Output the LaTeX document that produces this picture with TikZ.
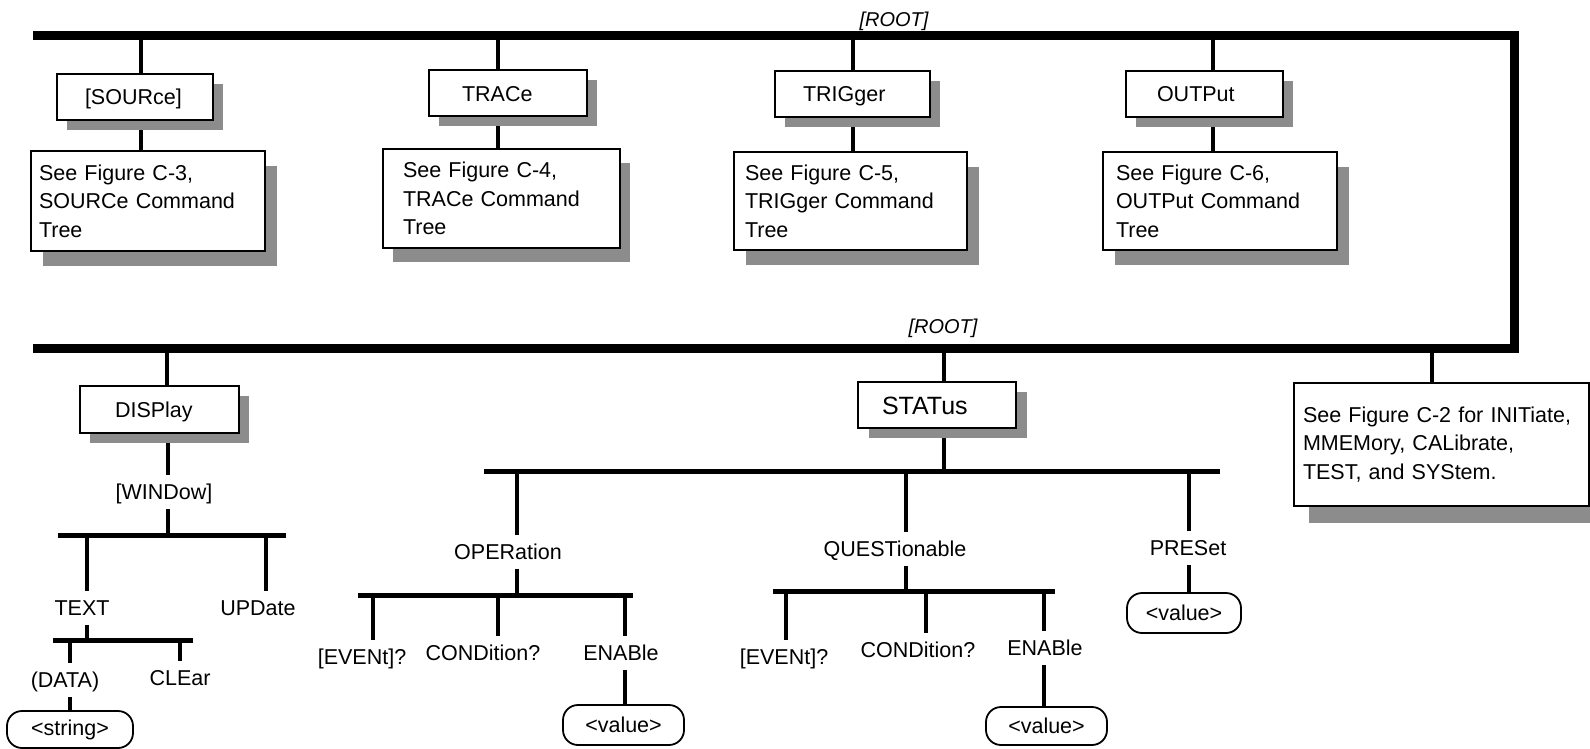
\documentclass[tikz,border=0pt]{standalone}
\usepackage{fontspec}
\setmainfont{Liberation Sans}
\usetikzlibrary{shadows}
\pgfdeclarelayer{bg}
\pgfsetlayers{bg,main}
\newcommand\lblfont{\fontsize{21.5pt}{28.5pt}\selectfont}
\newcommand\statfont{\fontsize{25pt}{30pt}\selectfont}
\newcommand\rootfont{\fontsize{20pt}{24pt}\selectfont\itshape}
\begin{document}
\begin{tikzpicture}[x=1pt,y=-1pt,
  bus/.style={line width=9pt, line join=miter},
  stem/.style={line width=4.5pt},
  tstem/.style={line width=4pt},
  tbar/.style={line width=5pt},
  shad/.style 2 args={drop shadow={shadow xshift=#1pt, shadow yshift=-#2pt, fill=black!45, opacity=1}},
  cmdbox/.style={draw, fill=white, line width=2pt, minimum height=46pt, align=left, font=\lblfont, inner ysep=0pt, text height=15.5pt, text depth=0pt},
  descbox/.style={draw, fill=white, line width=2pt, align=left, font=\lblfont, inner ysep=0pt},
  lbl/.style={font=\lblfont, inner sep=0pt, outer xsep=0pt, outer ysep=9pt, text height=15.5pt, text depth=0pt},
  valbox/.style={draw, line width=1.8pt, rounded corners=15pt, font=\lblfont, inner sep=0pt},
  rootlbl/.style={font=\rootfont, inner sep=0pt}
]
\useasboundingbox (0,0) rectangle (1590,749);

% ---------- top level ----------
\node[rootlbl] (root1) at (894,21) {[ROOT]};
\node[rootlbl] (root2) at (943,328) {[ROOT]};

\node[cmdbox, shad={10}{10}, inner xsep=28pt, text width=100pt] (src) at (135,97) {[SOURce]};
\node[cmdbox, shad={10}{10}, inner xsep=33pt, text width=92pt] (trc) at (508,93.5) {TRACe};
\node[cmdbox, shad={10}{10}, inner xsep=28pt, text width=99pt] (trg) at (852.5,94) {TRIGger};
\node[cmdbox, shad={10}{10}, inner xsep=31pt, text width=95pt] (out) at (1204.5,94) {OUTPut};

\node[descbox, shad={12}{15}, inner xsep=8pt, text width=218pt, minimum height=100pt] (d3) at (148,201) {See Figure C-3,\\SOURCe Command\\Tree};
\node[descbox, shad={10}{14}, inner xsep=20pt, text width=197pt, minimum height=99pt] (d4) at (501.5,198.5) {See Figure C-4,\\TRACe Command\\Tree};
\node[descbox, shad={12}{15}, inner xsep=11pt, text width=211pt, minimum height=98pt] (d5) at (850.5,201) {See Figure C-5,\\TRIGger Command\\Tree};
\node[descbox, shad={12}{15}, inner xsep=13pt, text width=208pt, minimum height=98pt] (d6) at (1220,201) {See Figure C-6,\\OUTPut Command\\Tree};

% ---------- second level ----------
\node[cmdbox, shad={10}{10}, inner xsep=35pt, text width=89pt, minimum height=47pt] (disp) at (159.5,409.5) {DISPlay};
\node[cmdbox, shad={11}{10}, inner xsep=24pt, text width=110pt, font=\statfont, text height=18pt] (stat) at (937,405) {STATus};
\node[descbox, shad={15}{17}, inner xsep=9pt, text width=277pt, minimum height=123pt] (c2) at (1441.5,444.5) {See Figure C-2 for INITiate,\\MMEMory, CALibrate,\\TEST, and SYStem.};

% DISPlay subtree
\node[lbl] (win) at (164,492) {[WINDow]};
\node[lbl] (txt) at (82,608) {TEXT};
\node[lbl] (upd) at (258,608) {UPDate};
\node[lbl] (dat) at (65,680) {(DATA)};
\node[lbl] (clr) at (180,678) {CLEar};
\node[valbox, minimum width=126pt, minimum height=37pt] (str) at (70,729.5) {<string>};

% STATus subtree
\node[lbl] (oper) at (508,552) {OPERation};
\node[lbl] (ev1) at (362,657) {[EVENt]?};
\node[lbl] (cn1) at (483,653) {CONDition?};
\node[lbl] (en1) at (621,653) {ENABle};
\node[valbox, minimum width=121pt, minimum height=40pt] (v1) at (623.5,725) {<value>};
\node[lbl] (ques) at (895,549) {QUESTionable};
\node[lbl] (ev2) at (784,657) {[EVENt]?};
\node[lbl] (cn2) at (918,650) {CONDition?};
\node[lbl] (en2) at (1045,648) {ENABle};
\node[valbox, minimum width=121pt, minimum height=38pt] (v2) at (1046.5,726) {<value>};
\node[lbl] (pre) at (1188,548) {PRESet};
\node[valbox, minimum width=114pt, minimum height=40pt] (v3) at (1184,613) {<value>};

% ---------- coordinates ----------
\coordinate (busTL) at (33,36);
\coordinate (busTR) at (1514,36);
\coordinate (busBR) at (1514,348);
\coordinate (busBL) at (33,348);
\coordinate (s1) at (141,36);
\coordinate (s2) at (498,36);
\coordinate (s3) at (853,36);
\coordinate (s4) at (1213,36);
\coordinate (b1) at (167,348);
\coordinate (b2) at (944,348);
\coordinate (b3) at (1432,348);
\coordinate (wbL) at (58,535);
\coordinate (wbR) at (286,535);
\coordinate (wb0) at (168,535);
\coordinate (wb1) at (87,535);
\coordinate (wb2) at (266,535);
\coordinate (tbL) at (53,640);
\coordinate (tbR) at (193,640);
\coordinate (tb0) at (87,640);
\coordinate (tb1) at (70,640);
\coordinate (tb2) at (180,640);
\coordinate (sbL) at (484,471);
\coordinate (sbR) at (1220,471);
\coordinate (sb0) at (944,471);
\coordinate (sb1) at (517,471);
\coordinate (sb2) at (906,471);
\coordinate (sb3) at (1189,471);
\coordinate (obL) at (358,595);
\coordinate (obR) at (633,595);
\coordinate (ob0) at (517,595);
\coordinate (ob1) at (373,595);
\coordinate (ob2) at (498,595);
\coordinate (ob3) at (625,595);
\coordinate (qbL) at (773,591);
\coordinate (qbR) at (1055,591);
\coordinate (qb0) at (906,591);
\coordinate (qb1) at (786,591);
\coordinate (qb2) at (926,591);
\coordinate (qb3) at (1044,591);

\begin{pgfonlayer}{bg}
\draw[bus] (busTL) -- (busTR) -- (busBR) -- (busBL);
% top stems
\draw[stem] (s1) -- (s1 |- src.north);
\draw[stem] (s1 |- src.south) -- (s1 |- d3.north);
\draw[stem] (s2) -- (s2 |- trc.north);
\draw[stem] (s2 |- trc.south) -- (s2 |- d4.north);
\draw[stem] (s3) -- (s3 |- trg.north);
\draw[stem] (s3 |- trg.south) -- (s3 |- d5.north);
\draw[stem] (s4) -- (s4 |- out.north);
\draw[stem] (s4 |- out.south) -- (s4 |- d6.north);
% bottom bus stems
\draw[stem] (b1) -- (b1 |- disp.north);
\draw[stem] (b2) -- (b2 |- stat.north);
\draw[stem] (b3) -- (b3 |- c2.north);
% DISPlay subtree
\draw[tstem] (wb0 |- disp.south) -- (wb0 |- win.north);
\draw[tstem] (wb0 |- win.south) -- (wb0);
\draw[tbar] (wbL) -- (wbR);
\draw[tstem] (wb1) -- (wb1 |- txt.north);
\draw[tstem] (wb2) -- (wb2 |- upd.north);
\draw[tstem] (tb0 |- txt.south) -- (tb0);
\draw[tbar] (tbL) -- (tbR);
\draw[tstem] (tb1) -- (tb1 |- dat.north);
\draw[tstem] (tb2) -- (tb2 |- clr.north);
\draw[tstem] (tb1 |- dat.south) -- (tb1 |- str.north);
% STATus subtree
\draw[tstem] (sb0 |- stat.south) -- (sb0);
\draw[tbar] (sbL) -- (sbR);
\draw[tstem] (sb1) -- (sb1 |- oper.north);
\draw[tstem] (sb2) -- (sb2 |- ques.north);
\draw[tstem] (sb3) -- (sb3 |- pre.north);
\draw[tstem] (ob0 |- oper.south) -- (ob0);
\draw[tbar] (obL) -- (obR);
\draw[tstem] (ob1) -- (ob1 |- ev1.north);
\draw[tstem] (ob2) -- (ob2 |- cn1.north);
\draw[tstem] (ob3) -- (ob3 |- en1.north);
\draw[tstem] (ob3 |- en1.south) -- (ob3 |- v1.north);
\draw[tstem] (qb0 |- ques.south) -- (qb0);
\draw[tbar] (qbL) -- (qbR);
\draw[tstem] (qb1) -- (qb1 |- ev2.north);
\draw[tstem] (qb2) -- (qb2 |- cn2.north);
\draw[tstem] (qb3) -- (qb3 |- en2.north);
\draw[tstem] (qb3 |- en2.south) -- (qb3 |- v2.north);
\draw[tstem] (sb3 |- pre.south) -- (sb3 |- v3.north);
\end{pgfonlayer}
\end{tikzpicture}
\end{document}
